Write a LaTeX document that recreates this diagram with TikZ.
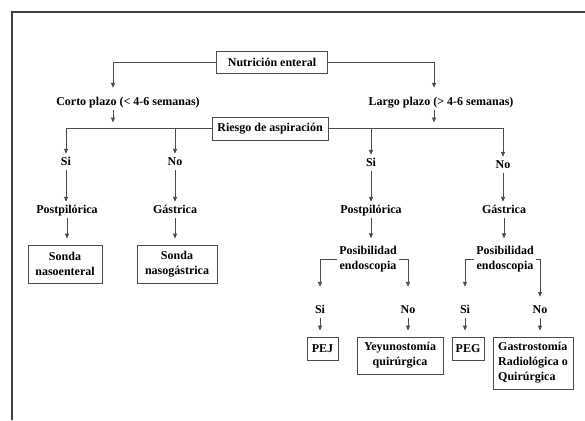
\documentclass[tikz,border=0pt]{standalone}
\usepackage{fontspec}
\setmainfont{Liberation Serif}
\usetikzlibrary{arrows.meta}

\begin{document}
\begin{tikzpicture}[x=1pt,y=-1pt,
    >={Triangle[length=5pt,width=4pt]},
    line/.style={black!70, line width=0.8pt},
    txt/.style={font=\fontsize{12}{15}\selectfont\bfseries, inner sep=2pt,
                text height=9pt, text depth=3pt},
    twoline/.style={font=\fontsize{12}{15}\selectfont\bfseries, inner sep=2pt, align=center},
    box/.style={draw=black!70, line width=0.8pt, inner sep=2pt,
                font=\fontsize{12}{15}\selectfont\bfseries, align=center}]
    \useasboundingbox (0,0) rectangle (585,420);

    % Frame
    \draw[black!75, line width=1.6pt] (12,420) -- (12,12) -- (585,12);

    % Top levels
    \node[box, minimum width=111pt, minimum height=22pt] (nutri) at (272,62) {Nutrición enteral};
    \node[txt] (corto) at (128,102) {Corto plazo (< 4-6 semanas)};
    \node[txt] (largo) at (441,102) {Largo plazo (> 4-6 semanas)};
    \node[box, minimum width=116pt, minimum height=23pt] (riesgo) at (270,128.5) {Riesgo de aspiración};

    % Short term branch
    \node[txt] (si1) at (66,162) {Si};
    \node[txt] (no1) at (175,162) {No};
    \node[txt] (post1) at (67,210) {Postpilórica};
    \node[txt] (gas1) at (175,210) {Gástrica};
    \node[box, minimum width=74pt, minimum height=38pt] (sonda1) at (65,264) {Sonda\\nasoenteral};
    \node[box, minimum width=80pt, minimum height=38pt] (sonda2) at (177,264) {Sonda\\nasogástrica};

    % Long term branch
    \node[txt] (si2) at (371,163) {Si};
    \node[txt] (no2) at (503,165) {No};
    \node[txt] (post2) at (371,210) {Postpilórica};
    \node[txt] (gas2) at (504,210) {Gástrica};
    \node[twoline] (posib1) at (368,259.5) {Posibilidad\\endoscopia};
    \node[twoline] (posib2) at (505,259.5) {Posibilidad\\endoscopia};
    \node[txt] (si3) at (320,310) {Si};
    \node[txt] (no3) at (408,310) {No};
    \node[txt] (si4) at (465,310) {Si};
    \node[txt] (no4) at (540,310) {No};
    \node[box, minimum width=31pt, minimum height=23pt] (pej) at (322.5,348.5) {PEJ};
    \node[box, minimum width=86pt, minimum height=37pt] (yeyu) at (400,355.5) {Yeyunostomía\\quirúrgica};
    \node[box, minimum width=32pt, minimum height=23pt] (peg) at (468,348.5) {PEG};
    \node[box, minimum width=80pt, minimum height=52pt, align=left] (gastro) at (533,363)
        {Gastrostomía\\Radiológica o\\Quirúrgica};

    % Connectors
    \draw[line, ->, shorten >=6pt] (nutri.west) -| ([xshift=-15pt]corto.north);
    \draw[line, ->, shorten >=6pt] (nutri.east) -| ([xshift=-7pt]largo.north);
    \draw[line, ->, shorten >=6pt] ([xshift=-15pt]corto.south) -- ([xshift=-15pt]corto.south |- riesgo.west);
    \draw[line, ->, shorten >=6pt] ([xshift=-7pt]largo.south) -- ([xshift=-7pt]largo.south |- riesgo.west);
    \foreach \a in {si1,no1} {
        \draw[line, ->] (riesgo.west) -| (\a.north);
    }
    \foreach \a in {si2,no2} {
        \draw[line, ->] (riesgo.east) -| (\a.north);
    }
    \foreach \a/\b in {si1/post1, no1/gas1, si2/post2, no2/gas2} {
        \draw[line, ->] (\a.south) -- (\a.south |- \b.north);
    }
    \foreach \a/\b in {post1/sonda1, gas1/sonda2, post2/posib1, gas2/posib2} {
        \draw[line, ->, shorten >=6pt] (\a.south) -- (\a.south |- \b.north);
    }
    \draw[line, ->, shorten >=15pt] (posib1.west) -| (si3.north);
    \draw[line, ->, shorten >=15pt] (posib1.east) -| (no3.north);
    \draw[line, ->, shorten >=15pt] (posib2.west) -| (si4.north);
    \draw[line, ->, shorten >=5pt] (posib2.east) -| (no4.north);
    \foreach \a/\b in {si3/pej, no3/yeyu, si4/peg, no4/gastro} {
        \draw[line, ->, shorten >=6pt] (\a.south) -- (\a.south |- \b.north);
    }
\end{tikzpicture}
\end{document}
